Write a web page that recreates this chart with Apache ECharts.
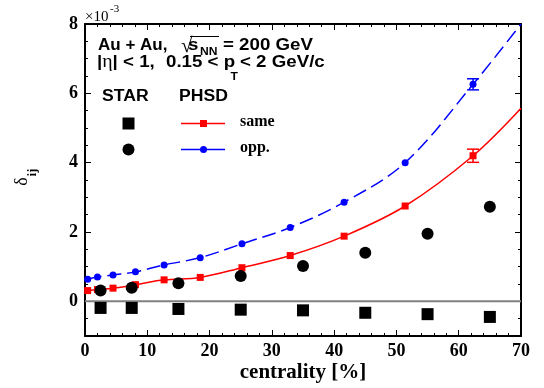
<!DOCTYPE html>
<html><head><meta charset="utf-8">
<script src="https://cdn.jsdelivr.net/npm/echarts@6/dist/echarts.min.js"></script>
<style>html,body{margin:0;padding:0;background:#fff}#c{width:544px;height:388px}</style>
</head><body><div id="c"></div>
<script>
// PHSD model (values in units of 1e-3)
const phsdX    = [0.43, 2.0, 4.5, 8.1, 12.7, 18.5, 25.2, 32.95, 41.6, 51.4, 62.3];
const phsdSame = [0.31, 0.34, 0.38, 0.48, 0.62, 0.69, 0.97, 1.32, 1.88, 2.75, 4.20];
const phsdOpp  = [0.64, 0.70, 0.76, 0.85, 1.05, 1.26, 1.66, 2.13, 2.86, 4.00, 6.26];
// curve continuation to the right edge
const curveEndX = 70;
const sameEnd = 5.57;
const oppEnd = 8.0;
// error bars on last PHSD points
const errX = 62.3;
const sameErr = 0.19;
const oppErr = 0.16;
// STAR data
const starX    = [2.5, 7.5, 15, 25, 35, 45, 55, 65];
const starSame = [-0.19, -0.19, -0.22, -0.24, -0.26, -0.33, -0.37, -0.45];
const starOpp  = [0.31, 0.39, 0.52, 0.73, 1.02, 1.40, 1.95, 2.73];
// axes
const xMin = 0, xMax = 70, xStep = 10;
const yMin = -1, yMax = 8, yMinorStep = 0.5;
const yMajor = [0, 2, 4, 6, 8];

const SERIF = '"Liberation Serif","Times New Roman",serif';
const SANS = '"Liberation Sans",Arial,sans-serif';
const SX = 1.1;

const chart = echarts.init(document.getElementById('c'), null, {renderer: 'canvas'});

function yAxisDef(pos, major, labels) {
  const a = {
    type: 'value', position: pos, min: yMin, max: yMax, interval: yMinorStep,
    splitLine: {show: false},
    axisLine: {show: !major, onZero: false, lineStyle: {color: '#000', width: 2}},
    axisTick: {show: true, inside: true, length: major ? 6 : 3, lineStyle: {color: '#000', width: 1}},
    axisLabel: {show: false}
  };
  if (major) a.axisTick.customValues = yMajor;
  if (labels) {
    a.axisLabel = {show: true, customValues: yMajor, fontFamily: SERIF, fontWeight: 'bold',
      fontSize: 18, color: '#000', margin: 7};
  }
  return a;
}

function xAxisDef(pos, labels) {
  return {type: 'value', position: pos, min: xMin, max: xMax, interval: xStep,
    splitLine: {show: false},
    axisLine: {onZero: false, lineStyle: {color: '#000', width: 2}},
    axisTick: {inside: true, length: 6, lineStyle: {color: '#000'}},
    minorTick: {show: true, splitNumber: 5, length: 3, lineStyle: {color: '#000'}},
    axisLabel: labels ? {fontFamily: SERIF, fontWeight: 'bold', fontSize: 18, color: '#000', margin: 6} : {show: false}};
}

function txt(x, y, text, font, extra, sx) {
  const el = {type: 'text', x: x, y: y, scaleX: sx || SX,
    style: Object.assign({text: text, font: font, fill: '#000', verticalAlign: 'middle'}, extra || {})};
  return el;
}

const option = {
  animation: false,
  backgroundColor: '#fff',
  grid: {left: 85, right: 23, top: 24, bottom: 52},
  xAxis: [xAxisDef('bottom', true), xAxisDef('top', false)],
  yAxis: [
    yAxisDef('left', false, true),
    yAxisDef('left', true, false),
    yAxisDef('right', false, false),
    yAxisDef('right', true, false)
  ],
  series: [
    {type: 'line', data: [[xMin, 0], [xMax, 0]], symbol: 'none', silent: true, z: 1,
     lineStyle: {color: '#808080', width: 2}},
    {type: 'line', data: phsdX.map((x, i) => [x, phsdSame[i]]).concat([[curveEndX, sameEnd]]),
     showSymbol: false, smooth: 0.35, z: 2,
     lineStyle: {color: '#ff0000', width: 1.5}},
    {type: 'line', data: phsdX.map((x, i) => [x, phsdOpp[i]]).concat([[curveEndX, oppEnd]]),
     showSymbol: false, smooth: 0.35, z: 2,
     lineStyle: {color: '#0000ff', width: 1.5, type: [14, 6]}},
    {type: 'scatter', data: phsdX.map((x, i) => [x, phsdSame[i]]), symbol: 'rect', symbolSize: 7, z: 3,
     itemStyle: {color: '#ff0000', opacity: 1}},
    {type: 'scatter', data: phsdX.map((x, i) => [x, phsdOpp[i]]), symbol: 'circle', symbolSize: 7, z: 3,
     itemStyle: {color: '#0000ff', opacity: 1}},
    {type: 'custom', z: 4,
     data: [[errX, phsdSame[phsdSame.length - 1], sameErr], [errX, phsdOpp[phsdOpp.length - 1], oppErr]],
     renderItem: function (params, api) {
       const x = api.value(0), y = api.value(1), e = api.value(2);
       const col = params.dataIndex === 0 ? '#ff0000' : '#0000ff';
       const lo = api.coord([x, y - e]), hi = api.coord([x, y + e]);
       const w = 6;
       const st = {stroke: col, lineWidth: 1.5};
       return {type: 'group', children: [
         {type: 'line', shape: {x1: lo[0], y1: lo[1], x2: hi[0], y2: hi[1]}, style: st},
         {type: 'line', shape: {x1: lo[0] - w, y1: lo[1], x2: lo[0] + w, y2: lo[1]}, style: st},
         {type: 'line', shape: {x1: hi[0] - w, y1: hi[1], x2: hi[0] + w, y2: hi[1]}, style: st}
       ]};
     }},
    {type: 'scatter', data: starX.map((x, i) => [x, starSame[i]]), symbol: 'rect', symbolSize: 12, z: 5,
     itemStyle: {color: '#000', opacity: 1}},
    {type: 'scatter', data: starX.map((x, i) => [x, starOpp[i]]), symbol: 'circle', symbolSize: 12, z: 5,
     itemStyle: {color: '#000', opacity: 1}}
  ],
  graphic: [
    // x10^-3
    {type: 'text', x: 85, y: 17, style: {text: '×10', font: '15px ' + SERIF, fill: '#000', verticalAlign: 'middle'}},
    {type: 'text', x: 110, y: 9, style: {text: '-3', font: '11px ' + SERIF, fill: '#000', verticalAlign: 'middle'}},
    // y title
    {type: 'text', x: 22.5, y: 181.5, rotation: Math.PI / 2,
     style: {text: 'δ', font: '18px ' + SERIF, fill: '#000', align: 'center', verticalAlign: 'middle'}},
    {type: 'text', x: 33, y: 172.5, rotation: Math.PI / 2,
     style: {text: 'ij', font: 'bold 12px ' + SERIF, fill: '#000', align: 'center', verticalAlign: 'middle'}},
    // x title
    {type: 'text', x: 303, y: 373,
     style: {text: 'centrality [%]', font: 'bold 21px ' + SERIF, fill: '#000', align: 'center', verticalAlign: 'middle'}},
    // annotation line 1
    txt(98, 45, 'Au + Au,', 'bold 17px ' + SANS, null, 1.0),
    {type: 'text', x: 181, y: 46, style: {text: '√', font: '21px ' + SERIF, fill: '#000', verticalAlign: 'middle'}},
    {type: 'line', shape: {x1: 190, y1: 36.5, x2: 219, y2: 36.5}, style: {stroke: '#000', lineWidth: 1}},
    txt(188, 45, 's', 'bold 17px ' + SANS),
    txt(200, 52, 'NN', 'bold 11px ' + SANS),
    txt(223, 45, '= 200 GeV', 'bold 17px ' + SANS),
    // annotation line 2
    txt(97, 62, '|{e|η}| < 1,', 'bold 17px ' + SANS, {rich: {e: {fontFamily: SERIF, fontWeight: 'normal', fontSize: 18}}}),
    txt(166, 62, '0.15 < p', 'bold 17px ' + SANS),
    txt(230.5, 77, 'T', 'bold 11px ' + SANS),
    txt(240, 62, '< 2 GeV/c', 'bold 17px ' + SANS),
    // legend headers
    txt(102, 97, 'STAR', 'bold 16px ' + SANS),
    txt(179, 97, 'PHSD', 'bold 16px ' + SANS),
    // legend markers
    {type: 'rect', shape: {x: 122.5, y: 117.5, width: 12, height: 12}, style: {fill: '#000'}},
    {type: 'circle', shape: {cx: 128.5, cy: 149.5, r: 6}, style: {fill: '#000'}},
    {type: 'line', shape: {x1: 181, y1: 123.5, x2: 225, y2: 123.5}, style: {stroke: '#ff0000', lineWidth: 1.5}},
    {type: 'rect', shape: {x: 200, y: 120, width: 7, height: 7}, style: {fill: '#ff0000'}},
    {type: 'line', shape: {x1: 181, y1: 149.5, x2: 225, y2: 149.5}, style: {stroke: '#0000ff', lineWidth: 1.5}},
    {type: 'circle', shape: {cx: 203.5, cy: 149.5, r: 3.5}, style: {fill: '#0000ff'}},
    {type: 'text', x: 240, y: 122, style: {text: 'same', font: 'bold 16px ' + SERIF, fill: '#000', verticalAlign: 'middle'}},
    {type: 'text', x: 240, y: 148, style: {text: 'opp.', font: 'bold 16px ' + SERIF, fill: '#000', verticalAlign: 'middle'}}
  ]
};
chart.setOption(option);
</script></body></html>
